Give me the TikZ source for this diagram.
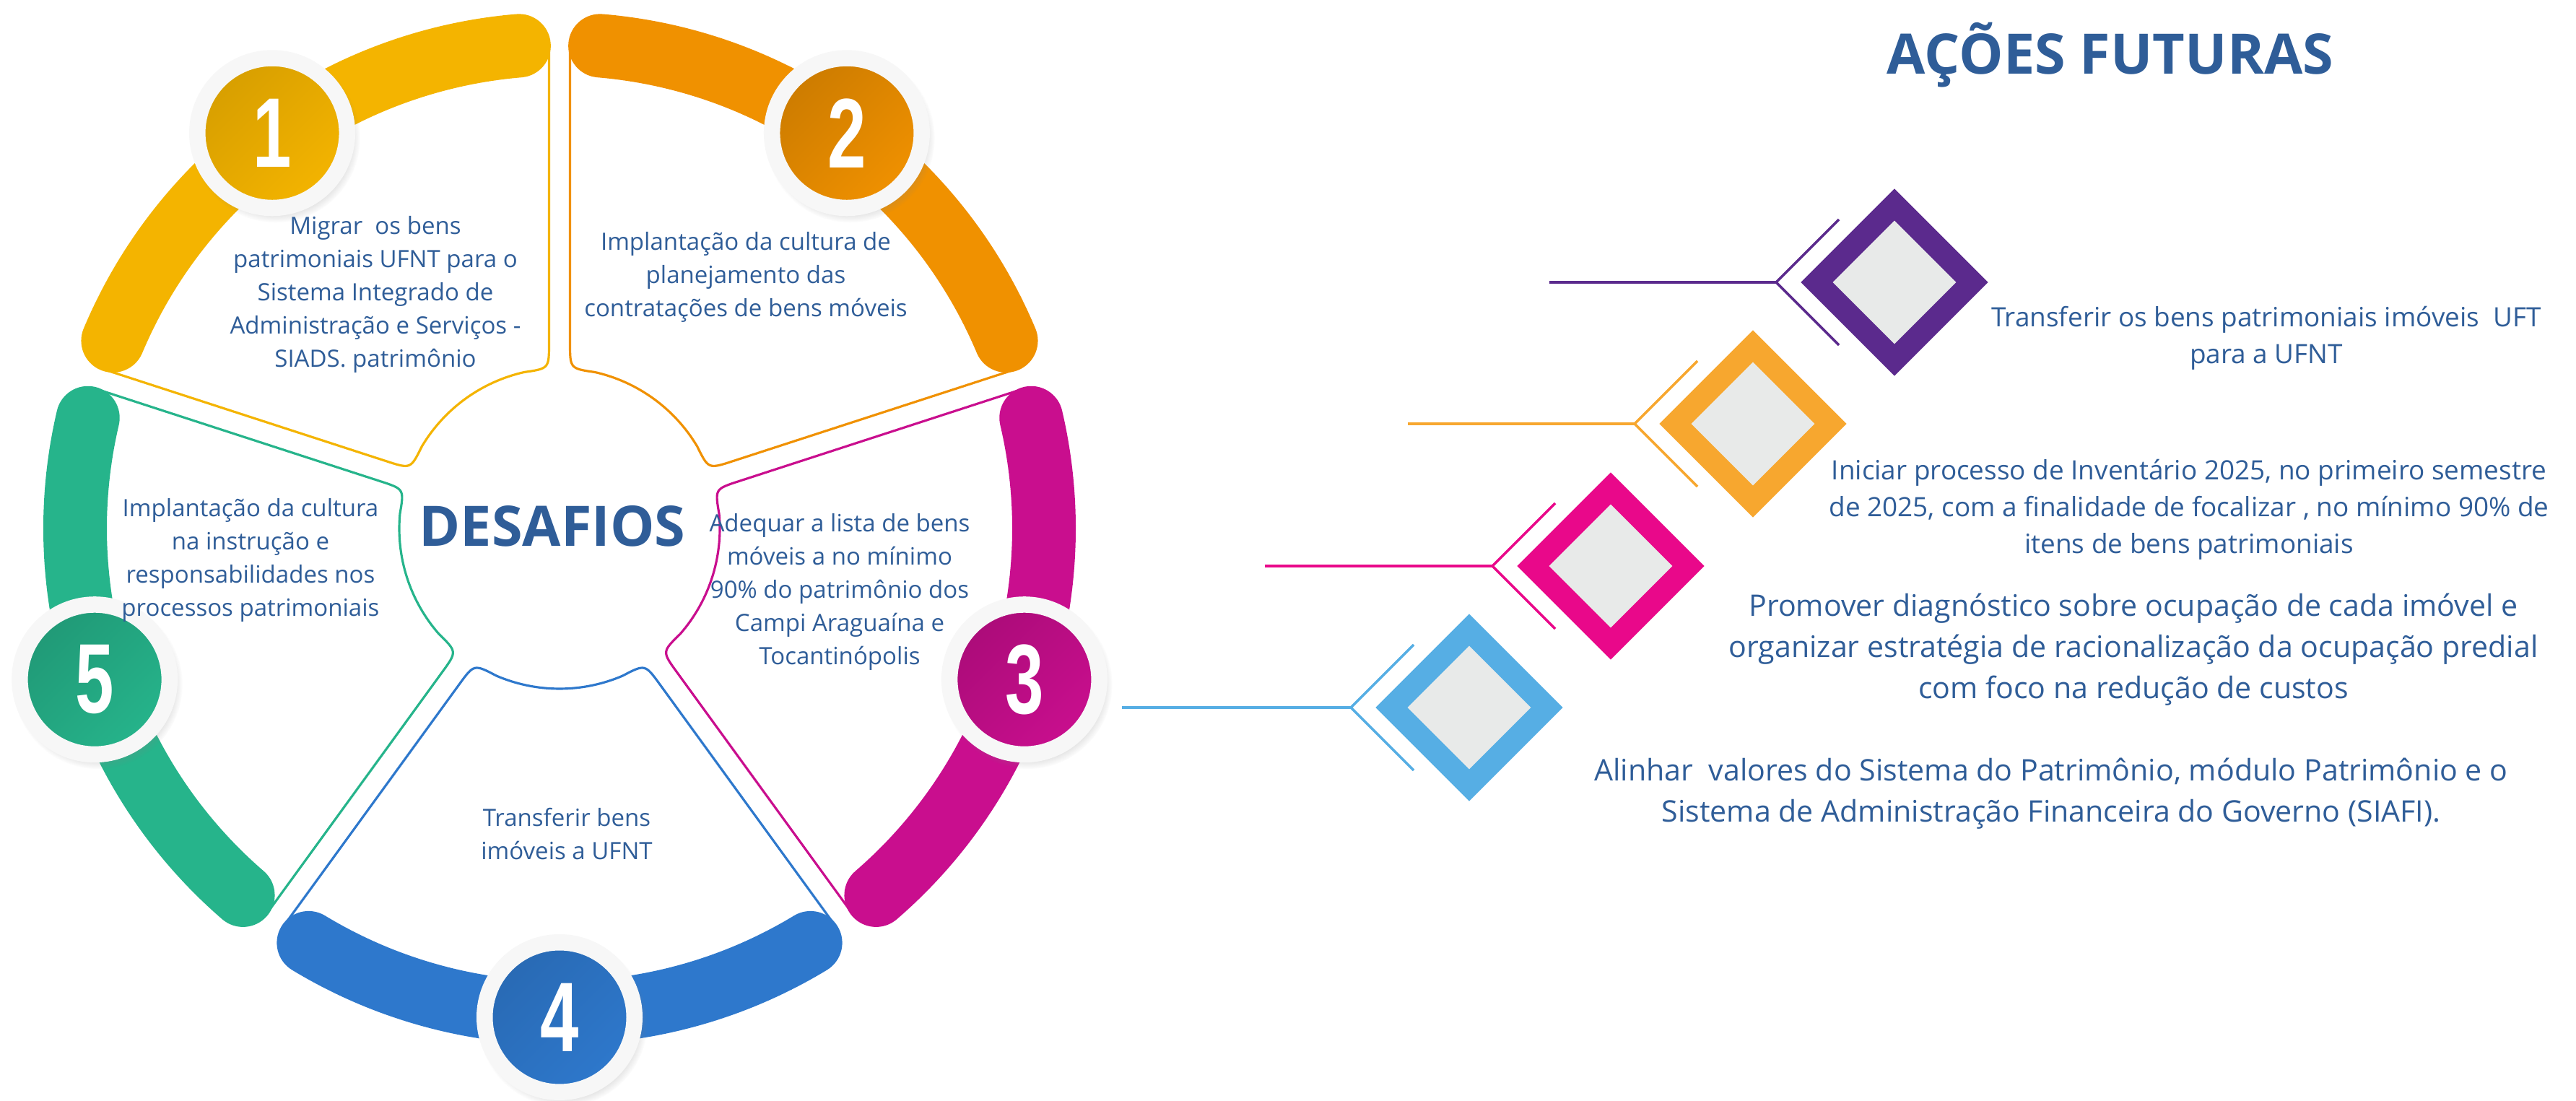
\documentclass[tikz,border=0pt]{standalone}
\usepackage{fontspec}
\setmainfont{Open Sans}
\newfontfamily\numfont{Liberation Sans}
\usetikzlibrary{shadows,positioning,shapes.geometric}
\definecolor{textblue}{HTML}{2F5D98}
\definecolor{ringwhite}{HTML}{F7F7F7}
\definecolor{wyellow}{HTML}{F4B400}
\definecolor{worange}{HTML}{F09100}
\definecolor{wmagenta}{HTML}{C90E8E}
\definecolor{wblue}{HTML}{2E78CC}
\definecolor{wgreen}{HTML}{26B48B}
\definecolor{acpurple}{HTML}{5B2A8D}
\definecolor{acorange}{HTML}{F7A72F}
\definecolor{acmagenta}{HTML}{E9088A}
\definecolor{acblue}{HTML}{56AEE4}
\definecolor{gemfill}{HTML}{E8EAE9}
\newcommand{\petal}[2]{%
  \begin{scope}[shift={(7.75,7.92)},rotate=#2]
  \draw[#1,line width=0.9pt] (55.24:6.71) -- (57.24:2.57)
    .. controls (57.75:2.22) .. (66.8:2.22)
    arc[start angle=66.8,end angle=113.2,radius=2.22]
    .. controls (122.25:2.22) .. (122.76:2.57) -- (124.76:6.71);
  \draw[#1,line width=0.88cm,line cap=round]
    (121.2:6.71) arc[start angle=121.2,end angle=58.8,radius=6.71];
  \end{scope}}

\begin{document}
\begin{tikzpicture}[
  numdisc/.style={circle,inner sep=0pt,minimum size=2.075cm,
    draw=ringwhite,line width=0.225cm,text=white,
    font=\numfont\bfseries\fontsize{39}{39}\selectfont,
    circular drop shadow={shadow scale=1.13,shadow xshift=0.04cm,
      shadow yshift=-0.06cm,opacity=0.3}},
  wheeltxt/.style={text=textblue,align=center,
    font=\fontsize{9.4}{13.1}\selectfont},
  acttxt/.style={text=textblue,align=center,
    font=\fontsize{10.5}{14.5}\selectfont},
  acttxtbig/.style={text=textblue,align=center,
    font=\fontsize{11.7}{16.2}\selectfont},
  heading/.style={text=textblue,font=\bfseries\fontsize{22}{26}\selectfont},
  gem/.style={diamond,aspect=1,inner sep=0pt,minimum width=2.28cm,
    minimum height=2.28cm,fill=gemfill,line width=0.311cm}]

\fill[white] (0,0) rectangle (35.68,15.24);
\useasboundingbox (0,0) rectangle (35.68,15.24);

% wheel
\petal{wyellow}{36}
\petal{worange}{-36}
\petal{wmagenta}{-108}
\petal{wblue}{-180}
\petal{wgreen}{108}

\begin{scope}[shift={(7.75,7.92)}]
\node[numdisc,top color=wyellow!88!black,bottom color=wyellow,shading angle=45] (c1) at (126:6.77) {\scalebox{.7}[1]{1}};
\node[numdisc,top color=worange!85!black,bottom color=worange,shading angle=45] (c2) at (54:6.77) {\scalebox{.7}[1]{2}};
\node[numdisc,top color=wmagenta!85!black,bottom color=wmagenta,shading angle=45] (c3) at (-18:6.77) {\scalebox{.7}[1]{3}};
\node[numdisc,top color=wblue!88!black,bottom color=wblue,shading angle=45] (c4) at (-90:6.77) {\scalebox{.7}[1]{4}};
\node[numdisc,top color=wgreen!85!black,bottom color=wgreen,shading angle=45] (c5) at (198:6.77) {\scalebox{.7}[1]{5}};
\end{scope}

\node[heading] (des) at (7.65,7.95) {DESAFIOS};
\node[wheeltxt] (t1) at (5.20,11.16) {Migrar~ os bens\\patrimoniais UFNT para o\\Sistema Integrado de\\Administração e Serviços -\\SIADS. patrimônio};
\node[wheeltxt] (t2) at (10.33,11.40) {Implantação da cultura de\\planejamento das\\contratações de bens móveis};
\node[wheeltxt] (t3) at (11.63,7.04) {Adequar a lista de bens\\móveis a no mínimo\\90\% do patrimônio dos\\Campi Araguaína e\\Tocantinópolis};
\node[wheeltxt] (t4) at (7.85,3.69) {Transferir bens\\imóveis a UFNT};
\node[wheeltxt] (t5) at (3.47,7.48) {Implantação da cultura\\na instrução e\\responsabilidades nos\\processos patrimoniais};

% acoes futuras
\node[heading] (fut) at (29.23,14.48) {AÇÕES FUTURAS};

\node[gem,draw=acpurple] (g1) at (26.24,11.33) {};
\node[gem,draw=acorange] (g2) at (24.28,9.37) {};
\node[gem,draw=acmagenta] (g3) at (22.31,7.40) {};
\node[gem,draw=acblue] (g4) at (20.35,5.44) {};

\coordinate[left=1.64cm of g1.center] (k1);
\coordinate[left=1.64cm of g2.center] (k2);
\coordinate[left=1.64cm of g3.center] (k3);
\coordinate[left=1.64cm of g4.center] (k4);
\coordinate (s1) at (21.46,11.33);
\coordinate (s2) at (19.50,9.37);
\coordinate (s3) at (17.52,7.40);
\coordinate (s4) at (15.54,5.44);

\draw[acpurple,line width=1.3pt] (s1) -- (k1);
\draw[acpurple,line width=1pt] ([shift={(0.87,0.87)}]k1) -- (k1) -- ([shift={(0.87,-0.87)}]k1);
\draw[acorange,line width=1.3pt] (s2) -- (k2);
\draw[acorange,line width=1pt] ([shift={(0.87,0.87)}]k2) -- (k2) -- ([shift={(0.87,-0.87)}]k2);
\draw[acmagenta,line width=1.3pt] (s3) -- (k3);
\draw[acmagenta,line width=1pt] ([shift={(0.87,0.87)}]k3) -- (k3) -- ([shift={(0.87,-0.87)}]k3);
\draw[acblue,line width=1.3pt] (s4) -- (k4);
\draw[acblue,line width=1pt] ([shift={(0.87,0.87)}]k4) -- (k4) -- ([shift={(0.87,-0.87)}]k4);

\node[acttxt] (a1) at (31.39,10.555) {Transferir os bens patrimoniais imóveis~ UFT\\para a UFNT};
\node[acttxt] (a2) at (30.32,8.18) {Iniciar processo de Inventário 2025, no primeiro semestre\\de 2025, com a finalidade de focalizar , no mínimo 90\% de\\itens de bens patrimoniais};
\node[acttxtbig] (a3) at (29.55,6.24) {Promover diagnóstico sobre ocupação de cada imóvel e\\organizar estratégia de racionalização da ocupação predial\\com foco na redução de custos};
\node[acttxtbig] (a4) at (28.41,4.25) {Alinhar~ valores do Sistema do Patrimônio, módulo Patrimônio e o\\Sistema de Administração Financeira do Governo (SIAFI).};
\end{tikzpicture}
\end{document}
